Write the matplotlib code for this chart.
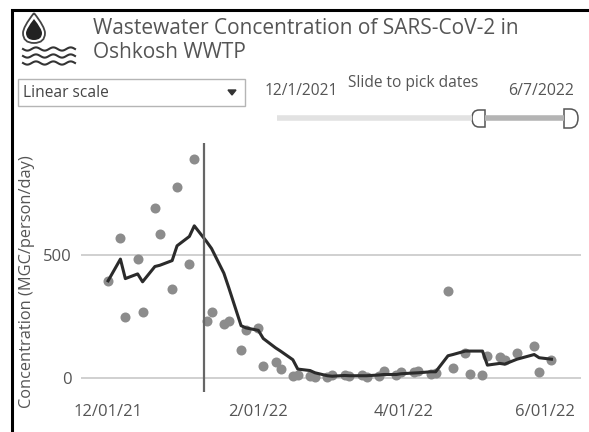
import numpy as np
import pandas as pd
import matplotlib
matplotlib.use("Agg")
import matplotlib.pyplot as plt
from matplotlib.path import Path
from matplotlib.patches import PathPatch, Rectangle
from matplotlib.transforms import ScaledTranslation

plt.rcParams["font.family"] = ["Open Sans", "DejaVu Sans"]

title_lines = ["Wastewater Concentration of SARS-CoV-2 in", "Oshkosh WWTP"]
y_label = "Concentration (MGC/person/day)"
dropdown_label = "Linear scale"
slider_title = "Slide to pick dates"
slider_start = "12/1/2021"
slider_end = "6/7/2022"

# samples (dots)
sample_dates = [
    "2021-12-01", "2021-12-06", "2021-12-08", "2021-12-13", "2021-12-15", "2021-12-20",
    "2021-12-22", "2021-12-27", "2021-12-29", "2022-01-03", "2022-01-05", "2022-01-10",
    "2022-01-12", "2022-01-17", "2022-01-19", "2022-01-24", "2022-01-26", "2022-01-31",
    "2022-02-02", "2022-02-07", "2022-02-09", "2022-02-14", "2022-02-16", "2022-02-21",
    "2022-02-23", "2022-02-28", "2022-03-02", "2022-03-07", "2022-03-09", "2022-03-14",
    "2022-03-16", "2022-03-21", "2022-03-23", "2022-03-28", "2022-03-30", "2022-04-04",
    "2022-04-06", "2022-04-11", "2022-04-13", "2022-04-18", "2022-04-20", "2022-04-25",
    "2022-04-27", "2022-05-02", "2022-05-04", "2022-05-09", "2022-05-11", "2022-05-16",
    "2022-05-23", "2022-05-25", "2022-05-30",
]
sample_values = [
    396, 568, 251, 485, 268, 691,
    586, 361, 778, 466, 891, 232,
    268, 222, 232, 115, 197, 203,
    50, 68, 38, 8, 14, 8,
    5, 5, 14, 14, 8, 14,
    5, 11, 32, 14, 26, 27,
    32, 19, 24, 355, 43, 103,
    19, 14, 89, 86, 76, 103,
    131, 26, 74,
]

# trend line, same dates as the dots
trend_values = [
    396, 484, 405, 424, 392, 454,
    459, 478, 538, 576, 619, 555,
    527, 427, 368, 214, 205, 195,
    162, 124, 111, 76, 38, 32,
    23, 11, 9, 12, 11, 11,
    11, 14, 16, 16, 19, 22,
    23, 27, 27, 92, 97, 111,
    111, 111, 54, 61, 58, 78,
    97, 84, 78,
]

y_ticks = [0, 500]
x_ticks = ["2021-12-01", "2022-02-01", "2022-04-01", "2022-06-01"]
x_tick_labels = ["12/01/21", "2/01/22", "4/01/22", "6/01/22"]
marker_date = "2022-01-09"

W, H = 589, 432
fig = plt.figure(figsize=(W / 100, H / 100), dpi=100)

# chart area in pixels: x 81-581, y 143-392
ax = fig.add_axes([81 / W, 1 - 392 / H, 500 / W, 249 / H])
dates = pd.to_datetime(sample_dates)

ax.scatter(dates, sample_values, s=52, color="#8c8c8c", linewidths=0, zorder=2)
ax.plot(dates, trend_values, color="#2b2b2b", lw=2.2, zorder=3)
ax.axvline(pd.Timestamp(marker_date), color="#666666", lw=1.6, zorder=4)

ax.set_xlim(pd.Timestamp("2021-11-20"), pd.Timestamp("2022-06-11"))
ax.set_ylim(-55, 955)
ax.set_yticks(y_ticks)
ax.set_xticks(pd.to_datetime(x_ticks))
ax.set_xticklabels(x_tick_labels)
ax.grid(axis="y", color="#c4c4c4", lw=1.1)
ax.set_axisbelow(True)
ax.tick_params(length=0, labelsize=12, labelcolor="#555555")
ax.tick_params(axis="y", pad=7)
ax.tick_params(axis="x", pad=9)
for s in ax.spines.values():
    s.set_visible(False)
ax.patch.set_alpha(0)

# labels sit a bit left of their dates in the original
for lb, dx in zip(ax.get_xticklabels(), [0, -3, -3, -11]):
    lb.set_transform(lb.get_transform() + ScaledTranslation(dx / 100, 0, fig.dpi_scale_trans))

# overlay in pixel coords for title, dropdown, slider, icon
ui = fig.add_axes([0, 0, 1, 1], zorder=0)
ui.set_xlim(0, W)
ui.set_ylim(H, 0)
ui.axis("off")

# frame
ui.plot([12, 12, W], [H, 10, 10], color="black", lw=2.2, solid_joinstyle="miter")

ui.text(93, 28, title_lines[0], fontsize=15, color="#555555", va="center")
ui.text(93, 53, title_lines[1], fontsize=15, color="#555555", va="center")

# dropdown
ui.add_patch(Rectangle((18, 79), 227, 27, fc="white", ec="#b5b5b5", lw=1))
ui.text(23, 93, dropdown_label, fontsize=11.2, color="#444444", va="center")
ui.add_patch(plt.Polygon([[228, 90], [236, 90], [232, 95]], color="#333333"))

# slider
ui.text(265, 91, slider_start, fontsize=11.2, color="#555555", va="center")
ui.text(348, 83, slider_title, fontsize=11.2, color="#555555", va="center")
ui.text(508, 91, slider_end, fontsize=11.4, color="#555555", va="center")
ui.plot([277, 472], [118, 118], color="#e2e2e2", lw=4, solid_capstyle="butt")
ui.plot([485, 564], [118, 118], color="#b4b4b4", lw=4, solid_capstyle="butt")
handle_codes = [Path.MOVETO, Path.LINETO, Path.CURVE3, Path.CURVE3, Path.CURVE3, Path.CURVE3, Path.LINETO, Path.CLOSEPOLY]
left = Path([(485, 110), (479, 110), (472, 110), (472, 118), (472, 127), (479, 127), (485, 127), (485, 110)], handle_codes)
right = Path([(564, 109), (570, 109), (578, 109), (578, 118), (578, 128), (570, 128), (564, 128), (564, 109)], handle_codes)
ui.add_patch(PathPatch(left, fc="white", ec="#555555", lw=1.1))
ui.add_patch(PathPatch(right, fc="white", ec="#555555", lw=1.1))

# water drop icon
drop_codes = [Path.MOVETO, Path.CURVE3, Path.CURVE3, Path.CURVE3, Path.CURVE3, Path.CURVE3, Path.CURVE3, Path.CURVE3, Path.CURVE3]
drop_outer = Path([(34, 13), (23, 27), (23, 33), (23, 43), (34, 43), (45, 43), (45, 33), (45, 27), (34, 13)], drop_codes)
ui.add_patch(PathPatch(drop_outer, fc="white", ec="#444444", lw=1.3))
drop_inner = Path([(34, 19), (26, 29), (26, 33), (26, 40), (34, 40), (42, 40), (42, 33), (42, 29), (34, 19)], drop_codes)
ui.add_patch(PathPatch(drop_inner, fc="#222222", ec="none"))
for wy in [49, 56, 63]:
    xs = np.linspace(23, 75, 80)
    ui.plot(xs, wy + 1.6 * np.sin((xs - 23) / 52 * 3 * 2 * np.pi), color="#333333", lw=1.5)

# y title
ui.text(27, 282, y_label, rotation=90, fontsize=11.8, color="#555555", ha="center", va="center")

fig.savefig("out.png", dpi=100)
